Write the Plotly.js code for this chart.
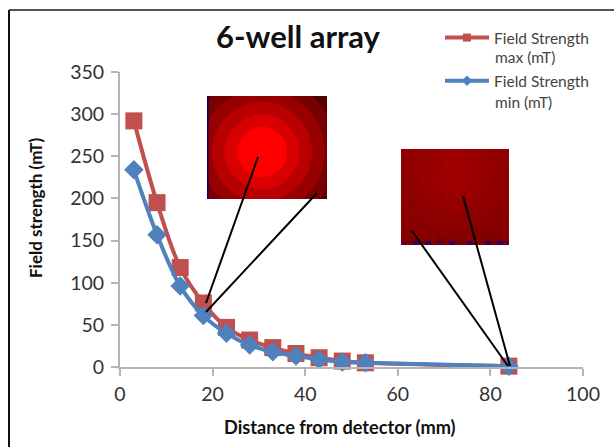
<!DOCTYPE html>
<html>
<head>
<meta charset="utf-8">
<script src="https://cdn.plot.ly/plotly-3.0.1.min.js"></script>
<style>html,body{margin:0;padding:0;background:#fff}#chart{width:614px;height:447px}</style>
</head>
<body>
<div id="chart"></div>
<script>
const distance = [3, 8, 13, 18, 23, 28, 33, 38, 43, 48, 53, 84];
const fieldMax = [292, 195, 118, 76, 47, 32, 23, 16, 11, 7, 5, 1];
const fieldMin = [234, 157, 96, 61, 40, 26, 18, 13, 9, 6, 5, 1];
const xTicks = [0, 20, 40, 60, 80, 100];
const yTicks = [0, 50, 100, 150, 200, 250, 300, 350];
const legendName = 'Field Strength';
const unitMax = 'max (mT)';
const unitMin = 'min (mT)';

const insetAX = [-5.5, -4, -2.5, -1, 0.5, 2, 3.5, 5, 6.5];
const insetAY = [-5.6, -4.2, -2.8, -1.4, 0, 1.4, 2.8, 4.7];
const insetAZ = [
  [2.2, 3.1, 3.9, 4.3, 4.4, 4.1, 3.4, 2.5, 1.4],
  [3.1, 4.2, 5.1, 5.7, 5.8, 5.4, 4.5, 3.5, 2.3],
  [3.8, 5.1, 6.2, 7.0, 7.2, 6.6, 5.5, 4.3, 2.9],
  [4.3, 5.8, 7.1, 8.3, 8.5, 7.6, 6.2, 4.8, 3.4],
  [4.5, 6.0, 7.5, 9.0, 9.5, 8.0, 6.5, 5.0, 3.5],
  [4.3, 5.8, 7.1, 8.3, 8.5, 7.6, 6.2, 4.8, 3.4],
  [3.8, 5.1, 6.2, 7.0, 7.2, 6.6, 5.5, 4.3, 2.9],
  [2.8, 3.8, 4.7, 5.2, 5.3, 4.9, 4.1, 3.1, 2.0]
];
const insetBY = [0, 1, 2, 3, 4, 5, 6, 7, 8, 9, 10, 11, 12, 12.6];
const insetBZ = [
  [74, 78, 76, 82, 80, 84, 88, 86, 90, 86, 88, 84, 82, 84, 78, 76, 78, 72],
  [76, 74, 80, 78, 84, 82, 86, 90, 88, 92, 88, 86, 84, 80, 82, 76, 74, 76],
  [72, 78, 76, 82, 82, 88, 84, 92, 90, 88, 94, 86, 86, 82, 78, 80, 76, 72],
  [76, 72, 80, 78, 86, 84, 90, 88, 94, 90, 88, 92, 84, 84, 80, 76, 78, 74],
  [70, 76, 74, 82, 80, 88, 86, 92, 88, 94, 90, 86, 88, 80, 82, 74, 76, 72],
  [72, 70, 78, 76, 84, 82, 88, 86, 90, 88, 92, 84, 82, 84, 76, 78, 72, 70],
  [68, 74, 72, 80, 78, 84, 80, 88, 84, 88, 82, 86, 80, 78, 80, 72, 74, 68],
  [70, 66, 74, 72, 78, 76, 82, 78, 84, 80, 84, 78, 80, 74, 74, 76, 68, 70],
  [66, 70, 68, 74, 72, 78, 74, 80, 76, 82, 78, 76, 74, 76, 70, 68, 70, 66],
  [64, 66, 70, 68, 72, 70, 74, 72, 76, 72, 74, 72, 70, 72, 68, 70, 64, 66],
  [62, 66, 62, 68, 66, 70, 68, 70, 68, 72, 68, 70, 66, 68, 64, 62, 66, 62],
  [60, 62, 64, 62, 64, 66, 62, 66, 64, 62, 66, 60, 64, 62, 60, 64, 60, 62],
  [60, 58, 60, 56, 60, 62, 52, 60, 58, 60, 56, 60, 60, 58, 52, 60, 58, 60],
  [44, 52, 34, 56, 30, 58, 42, 56, 30, 52, 58, 36, 54, 58, 34, 50, 30, 48]
];

// Plot area in page pixels, used to place the insets, frame and titles
const W = 614, H = 447, L = 120, R = 583, T = 72, B = 367;
const px = v => (v - L) / (R - L);
const py = v => (B - v) / (B - T);
const dx = v => (v - L) / (R - L) * 100;
const dy = v => (B - v) / (B - T) * 350;
const blackLine = (a, b, c, d) => ({type: 'line', xref: 'x', yref: 'y', x0: dx(a), y0: dy(b), x1: dx(c), y1: dy(d),
  line: {color: '#000', width: 2}, layer: 'above'});
const frameLine = (a, b, c, d, color, width) => ({type: 'line', xref: 'paper', yref: 'paper', x0: px(a), y0: py(b), x1: px(c), y1: py(d),
  line: {color, width}, layer: 'above'});
const label = (text, a, b, size, color, textangle) => ({text, xref: 'paper', yref: 'paper', x: px(a), y: py(b),
  xanchor: textangle ? 'center' : (size < 16 ? 'left' : 'center'), yanchor: 'middle', showarrow: false, textangle: textangle || 0,
  font: {size, color}});

const traces = [
  {x: insetAX, y: insetAY, z: insetAZ, type: 'contour', xaxis: 'x2', yaxis: 'y2', showscale: false, hoverinfo: 'skip',
   autocontour: false, contours: {coloring: 'fill', start: 2.5, end: 7.5, size: 1.25, showlines: false}, line: {width: 0},
   zmin: 1.875, zmax: 8.125,
   colorscale: [[0, '#520000'], [0.2, '#780000'], [0.4, '#980000'], [0.6, '#b80000'], [0.8, '#d80000'], [1, '#ff0000']]},
  {y: insetBY, z: insetBZ, type: 'heatmap', xaxis: 'x3', yaxis: 'y3', showscale: false, hoverinfo: 'skip', zmin: 15, zmax: 100, zsmooth: false,
   colorscale: [[0, '#10006a'], [0.25, '#400050'], [0.45, '#800000'], [0.7, '#8e0000'], [1, '#a80000']]},
  {x: distance, y: fieldMax, name: legendName, type: 'scatter', mode: 'lines+markers', showlegend: false, cliponaxis: false,
   line: {color: '#c0504d', width: 4, shape: 'spline'}, marker: {symbol: 'square', size: 17, color: '#c0504d'}},
  {x: distance, y: fieldMin, name: legendName, type: 'scatter', mode: 'lines+markers', showlegend: false, cliponaxis: false,
   line: {color: '#4f81bd', width: 4, shape: 'spline'}, marker: {symbol: 'diamond', size: 15, color: '#4f81bd'}},
  {x: [null], y: [null], name: legendName, legendgroup: 'max', type: 'scatter', mode: 'lines+markers',
   line: {color: '#c0504d', width: 4}, marker: {symbol: 'square', size: 8, color: '#c0504d'}},
  {x: [null], y: [null], name: legendName, legendgroup: 'min', type: 'scatter', mode: 'lines+markers',
   line: {color: '#4f81bd', width: 4}, marker: {symbol: 'diamond', size: 8, color: '#4f81bd'}}
];

const hidden = {visible: false, fixedrange: true};
const layout = {
  width: W, height: H,
  margin: {l: L, r: W - R, t: T, b: H - B, pad: 0},
  paper_bgcolor: '#fff', plot_bgcolor: 'rgba(0,0,0,0)',
  font: {family: 'Lato, "Open Sans", sans-serif', color: '#333'},
  title: {text: '<b>6-well array</b>', font: {family: 'Lato, sans-serif', size: 31, color: '#111'},
    x: 298 / W, xanchor: 'center', y: 1 - 37 / H, yanchor: 'middle'},
  xaxis: {range: [0, 100], tickvals: xTicks, ticks: 'outside', ticklen: 7, tickcolor: '#b5b5b5', tickwidth: 2,
    showline: true, linecolor: '#b5b5b5', linewidth: 2, showgrid: false, zeroline: false, ticklabelstandoff: 2,
    tickfont: {size: 19.5, color: '#333'}},
  yaxis: {range: [0, 350], tickvals: yTicks, ticks: 'outside', ticklen: 7, tickcolor: '#b5b5b5', tickwidth: 2,
    showline: true, linecolor: '#b5b5b5', linewidth: 2, showgrid: false, zeroline: false, ticklabelstandoff: 3,
    tickfont: {size: 19.5, color: '#333'}},
  xaxis2: Object.assign({domain: [px(207), px(327)], range: [-5.5, 6.5], anchor: 'y2'}, hidden),
  yaxis2: Object.assign({domain: [py(199), py(96)], range: [4.7, -5.6], anchor: 'x2'}, hidden),
  xaxis3: Object.assign({domain: [px(401), px(509)], range: [-0.5, 17.5], anchor: 'y3'}, hidden),
  yaxis3: Object.assign({domain: [py(245), py(149)], range: [12.9, -0.5], anchor: 'x3'}, hidden),
  legend: {x: px(440), xanchor: 'left', y: py(21), yanchor: 'top', itemwidth: 44, traceorder: 'grouped',
    font: {size: 15.5, color: '#444'}, bgcolor: 'rgba(0,0,0,0)', tracegroupgap: 20},
  annotations: [
    label('<b>Distance from detector (mm)</b>', 340, 427, 18.2, '#111'),
    label('<b>Field strength (mT)</b>', 36, 208, 17, '#111', -90),
    label(unitMax, 493, 57, 15.5, '#444'),
    label(unitMin, 493, 102, 15.5, '#444')
  ],
  shapes: [
    frameLine(9, 10, W, 10, '#555', 2),
    frameLine(9, 10, 9, H, '#111', 2),
    {type: 'rect', xref: 'paper', yref: 'paper', x0: px(207), x1: px(208.5), y0: py(199), y1: py(96),
     fillcolor: '#00006a', line: {width: 0}, layer: 'above'},
    blackLine(258, 157, 206, 303),
    blackLine(317, 193, 206, 312),
    blackLine(463, 196, 510, 366),
    blackLine(412, 231, 508, 366)
  ],
  showlegend: true
};
Plotly.newPlot('chart', traces, layout, {displayModeBar: false, staticPlot: true});
</script>
</body>
</html>
